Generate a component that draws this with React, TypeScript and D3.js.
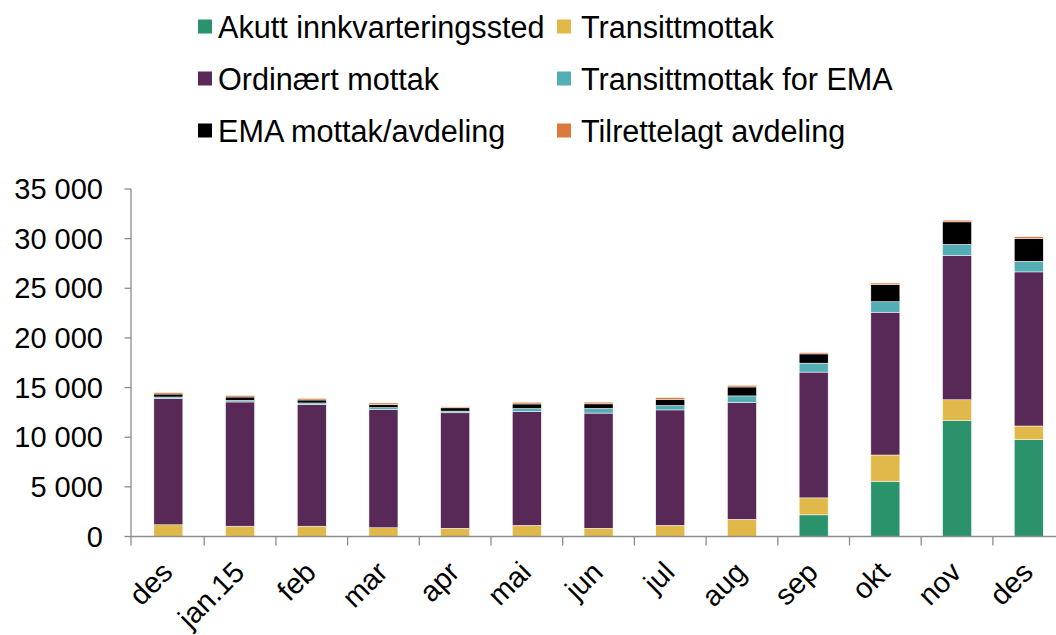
import React from "react";
import * as d3 from "d3";

const categories = ["des", "jan.15", "feb", "mar", "apr", "mai", "jun", "jul", "aug", "sep", "okt", "nov", "des"];

const akutt = [0, 0, 0, 0, 0, 0, 0, 0, 0, 2180, 5560, 11660, 9750];
const transitt = [1180, 1040, 1040, 880, 830, 1120, 830, 1120, 1730, 1710, 2650, 2110, 1380];
const ordinaert = [12700, 12510, 12240, 11900, 11630, 11470, 11600, 11630, 11770, 12670, 14380, 14550, 15520];
const transittEMA = [170, 160, 170, 200, 170, 300, 470, 440, 660, 900, 1060, 1100, 1070];
const emaMottak = [300, 340, 300, 300, 330, 460, 460, 630, 900, 930, 1710, 2270, 2310];
const tilrettelagt = [150, 160, 160, 170, 100, 170, 170, 170, 170, 130, 170, 170, 170];

const seriesNames = [
  "Akutt innkvarteringssted",
  "Transittmottak",
  "Ordinært mottak",
  "Transittmottak for EMA",
  "EMA mottak/avdeling",
  "Tilrettelagt avdeling",
];
const seriesValues = [akutt, transitt, ordinaert, transittEMA, emaMottak, tilrettelagt];
const colors = ["#2A936C", "#E1B84A", "#582856", "#54AEB5", "#000000", "#DB7A3C"];

const yTicks = [0, 5000, 10000, 15000, 20000, 25000, 30000, 35000];

const FONT = "'Liberation Sans', Arial, sans-serif";

export default function App() {
  const W = 1056;
  const H = 635;
  const left = 132.5;
  const band = 71.7;
  const right = left + band * categories.length;
  const y0 = 536.5;
  const yTop = 189;

  const rows = categories.map((c, i) => {
    const r: Record<string, number> = { idx: i };
    seriesNames.forEach((s, k) => (r[s] = seriesValues[k][i]));
    return r;
  });
  const stack = d3.stack<Record<string, number>>().keys(seriesNames);
  const stacked = stack(rows);

  const xb = d3.scaleBand<number>().domain(categories.map((_, i) => i)).range([left, right]);
  const y = d3.scaleLinear().domain([0, 35000]).range([y0, yTop]);
  const fmt = (v: number) => d3.format(",")(v).replace(/,/g, " ");

  const legendCols = [
    { sq: 198, tx: 218 },
    { sq: 557, tx: 581 },
  ];
  const legendRows = [37.5, 89.5, 141.5];

  return (
    <svg width={W} height={H} style={{ position: "absolute", left: 0, top: 0, background: "#fff" }}>
      <rect x={0} y={0} width={W} height={H} fill="#fff" />
      {stacked.map((s, k) => (
        <g key={s.key} fill={colors[k]}>
          {s.map((d, i) => {
            const h = y(d[0]) - y(d[1]);
            if (h <= 0) return null;
            const bw = 29;
            const cx = (xb(i) as number) + xb.bandwidth() / 2;
            return (
              <rect
                key={i}
                x={cx - bw / 2}
                y={y(d[1])}
                width={bw}
                height={h}
                stroke="#ffffff"
                strokeWidth={0.5}
              />
            );
          })}
        </g>
      ))}
      <line x1={left - 1.5} x2={left - 1.5} y1={yTop} y2={y0} stroke="#8c8c8c" strokeWidth={1.3} />
      {yTicks.map((t) => (
        <g key={t}>
          <line x1={left - 8} x2={left - 1.5} y1={y(t)} y2={y(t)} stroke="#8c8c8c" strokeWidth={1.3} />
          <text x={103} y={y(t)} dy="0.35em" textAnchor="end" fontFamily={FONT} fontSize={29} fill="#000">
            {fmt(t)}
          </text>
        </g>
      ))}
      <line x1={left - 1.5} x2={W + 20} y1={y0} y2={y0} stroke="#8c8c8c" strokeWidth={1.3} />
      {categories.map((_, i) => (
        <line
          key={"t" + i}
          x1={(xb(i) as number) + xb.bandwidth()}
          x2={(xb(i) as number) + xb.bandwidth()}
          y1={y0}
          y2={y0 + 9}
          stroke="#8c8c8c"
          strokeWidth={1.3}
        />
      ))}
      <line x1={left - 1.5} x2={left - 1.5} y1={y0} y2={y0 + 9} stroke="#8c8c8c" strokeWidth={1.3} />
      {categories.map((c, i) => {
        const cx = (xb(i) as number) + xb.bandwidth() / 2;
        return (
          <text
            key={"l" + i}
            transform={`translate(${cx + 6},${574}) rotate(-45)`}
            textAnchor="end"
            fontFamily={FONT}
            fontSize={29}
            fill="#000"
          >
            {c}
          </text>
        );
      })}
      {seriesNames.map((s, k) => {
        const col = legendCols[k % 2];
        const by = legendRows[Math.floor(k / 2)];
        return (
          <g key={"lg" + k}>
            <rect x={col.sq} y={by - 18} width={14} height={14} fill={colors[k]} />
            <text x={col.tx} y={by} fontFamily={FONT} fontSize={30.6} fill="#000">
              {s}
            </text>
          </g>
        );
      })}
    </svg>
  );
}
